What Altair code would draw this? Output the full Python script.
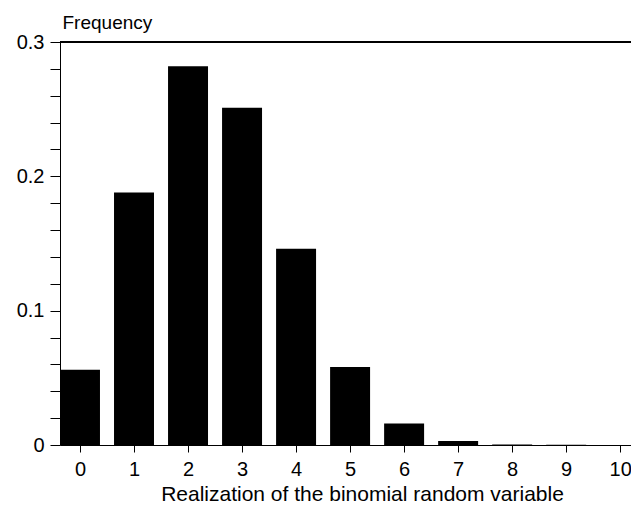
import altair as alt
import pandas as pd

# Data
realizations = [0, 1, 2, 3, 4, 5, 6, 7, 8, 9, 10]
frequencies = [0.056, 0.188, 0.282, 0.251, 0.146, 0.058, 0.016, 0.003, 0.0004, 0.0001, 0.0]
y_tick_values = [0.0, 0.02, 0.04, 0.06, 0.08, 0.1, 0.12, 0.14, 0.16, 0.18, 0.2,
                 0.22, 0.24, 0.26, 0.28, 0.3]

df = pd.DataFrame({"k": realizations, "freq": frequencies})

FONT = "Liberation Sans"
W, H = 571, 403
HALF = 0.37

xscale = alt.Scale(domain=[-0.37, 10.2], nice=False, zero=False)
yscale = alt.Scale(domain=[0, 0.3], nice=False)

bars = alt.Chart(df).transform_calculate(
    lo=f"datum.k - {HALF}", hi=f"datum.k + {HALF}"
).mark_bar(color="black", clip=True).encode(
    x=alt.X("lo:Q", scale=xscale,
            axis=alt.Axis(values=realizations, format="d", tickSize=7, grid=False,
                          domainColor="black", tickColor="black", labelColor="black",
                          labelFont=FONT, labelFontSize=20, labelPadding=7,
                          labelFlush=False, labelOverlap=False,
                          title="Realization of the binomial random variable",
                          titleFont=FONT, titleFontSize=21, titleFontWeight="normal",
                          titleColor="black", titleX=302, titleY=55,
                          titleAlign="center", titleBaseline="alphabetic")),
    x2="hi:Q",
    y=alt.Y("freq:Q", scale=yscale,
            axis=alt.Axis(values=y_tick_values, tickSize=10, grid=False,
                          domainColor="black", tickColor="black", labelColor="black",
                          labelFont=FONT, labelFontSize=20, labelPadding=6,
                          labelOverlap=False, labelFlush=False,
                          labelExpr="abs(datum.value*10 - round(datum.value*10)) < 0.001 ? (datum.value == 0 ? '0' : format(datum.value, '.1f')) : ''",
                          title="Frequency", titleFont=FONT, titleFontSize=19,
                          titleFontWeight="normal", titleColor="black",
                          titleAngle=0, titleAlign="left", titleBaseline="alphabetic",
                          titleX=2, titleY=-14)),
    y2=alt.datum(0),
)

top_line = alt.Chart(df).mark_rule(color="black", strokeWidth=1).encode(
    x=alt.value(0), x2=alt.value(W), y=alt.value(0)
)

chart = alt.layer(bars, top_line).properties(
    width=W, height=H,
    autosize=alt.AutoSizeParams(type="none"),
    padding={"left": 52, "top": 34, "right": 0, "bottom": 59},
).configure_view(stroke=None).configure(background="white")

chart.save("out.html", embed_options={"renderer": "svg", "actions": False})
